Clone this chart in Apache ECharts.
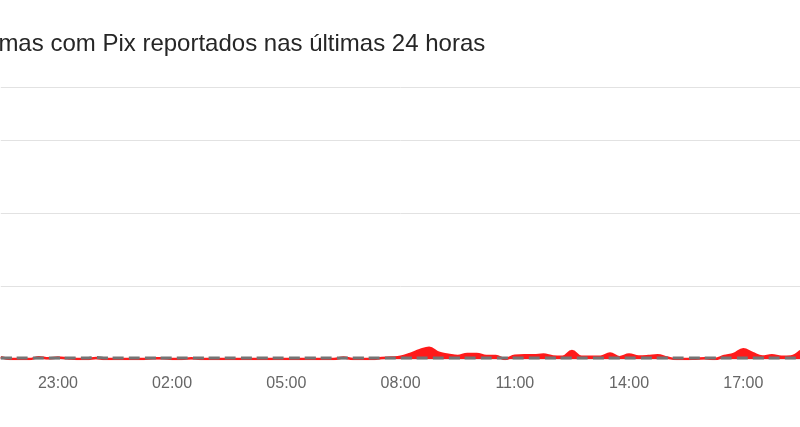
<!DOCTYPE html>
<html>
<head>
<meta charset="utf-8">
<script src="https://cdn.jsdelivr.net/npm/echarts@6/dist/echarts.min.js"></script>
<style>
html,body{margin:0;padding:0;background:#fff;}
#chart{width:800px;height:427px;}
</style>
</head>
<body>
<div id="chart"></div>
<script>
// Time slots (15 min) from 21:30 to 18:30
const times = [
"21:30","21:45","22:00","22:15","22:30","22:45","23:00","23:15","23:30","23:45",
"00:00","00:15","00:30","00:45","01:00","01:15","01:30","01:45","02:00","02:15",
"02:30","02:45","03:00","03:15","03:30","03:45","04:00","04:15","04:30","04:45",
"05:00","05:15","05:30","05:45","06:00","06:15","06:30","06:45","07:00","07:15",
"07:30","07:45","08:00","08:15","08:30","08:45","09:00","09:15","09:30","09:45",
"10:00","10:15","10:30","10:45","11:00","11:15","11:30","11:45","12:00","12:15",
"12:30","12:45","13:00","13:15","13:30","13:45","14:00","14:15","14:30","14:45",
"15:00","15:15","15:30","15:45","16:00","16:15","16:30","16:45","17:00","17:15",
"17:30","17:45","18:00","18:15","18:30"
];
// Reports (red area)
const reports = [
0.25,0,0,0,0.25,0.1,0.2,0.1,0,0,
0.15,0,0,0,0,0,0.1,0.1,0,0,
0.1,0,0,0,0,0,0,0,0,0,
0,0,0,0,0,0,0.2,0,0,0,
0.15,0.2,0.3,0.7,1.2,1.55,0.85,0.6,0.4,0.7,
0.7,0.4,0.4,0,0.45,0.5,0.5,0.6,0.35,0.3,
1.1,0.3,0.3,0.3,0.75,0.25,0.6,0.35,0.4,0.5,
0.2,0,0,0.05,0.1,0,0.4,0.7,1.35,0.8,
0.35,0.5,0.3,0.35,1.1
];
// Baseline (grey dashed)
const baseline = [
0.12,0.12,0.12,0.12,0.12,0.12,0.12,0.12,0.12,0.14,
0.2,0.14,0.12,0.12,0.12,0.12,0.12,0.12,0.12,0.12,
0.12,0.12,0.12,0.12,0.12,0.12,0.12,0.12,0.12,0.12,
0.12,0.12,0.12,0.12,0.12,0.12,0.12,0.12,0.12,0.12,
0.12,0.12,0.12,0.12,0.12,0.12,0.12,0.12,0.12,0.12,
0.12,0.12,0.12,0.12,0.12,0.12,0.12,0.12,0.12,0.12,
0.12,0.12,0.12,0.12,0.12,0.12,0.12,0.12,0.12,0.12,
0.12,0.12,0.12,0.12,0.12,0.12,0.12,0.12,0.12,0.12,
0.12,0.12,0.12,0.12,0.12
];
const labelHours = ["23:00","02:00","05:00","08:00","11:00","14:00","17:00"];
const titleText = "Problemas com Pix reportados nas últimas 24 horas";

const chart = echarts.init(document.getElementById('chart'), null, {renderer:'canvas'});
const FONT = '"Liberation Sans", Arial, Helvetica, sans-serif';
chart.setOption({
  animation: false,
  backgroundColor: '#ffffff',
  graphic: [{
    type: 'text',
    left: -71,
    top: 32,
    style: {
      text: titleText,
      font: '24px ' + FONT,
      fill: '#262626'
    }
  }],
  grid: { left: 0.8, right: -0.4, top: 87, bottom: 68, containLabel: false, outerBoundsMode: 'none' },
  xAxis: {
    type: 'category',
    data: times,
    boundaryGap: false,
    axisLine: { show: false },
    axisTick: { show: false },
    axisLabel: {
      interval: 0,
      formatter: function (v) { return labelHours.indexOf(v) >= 0 ? v : ''; },
      color: '#666666',
      fontSize: 16,
      fontFamily: FONT,
      margin: 17
    },
    splitLine: { show: false }
  },
  yAxis: {
    type: 'value',
    min: 0,
    max: 37.26,
    interval: 10,
    axisLabel: { show: false },
    axisLine: { show: false },
    axisTick: { show: false },
    splitLine: { show: true, lineStyle: { color: '#e2e2e2', width: 1 } }
  },
  series: [
    {
      name: 'Relatórios',
      type: 'line',
      data: reports,
      smooth: 0.4,
      symbol: 'none',
      lineStyle: { color: '#ff1a1a', width: 2.5 },
      areaStyle: { color: '#ff1a1a', opacity: 1 },
      z: 2
    },
    {
      name: 'Linha de base',
      type: 'line',
      data: baseline,
      smooth: 0.4,
      symbol: 'none',
      lineStyle: { color: '#747474', width: 3, type: [11, 5] },
      z: 3
    }
  ]
});
</script>
</body>
</html>
